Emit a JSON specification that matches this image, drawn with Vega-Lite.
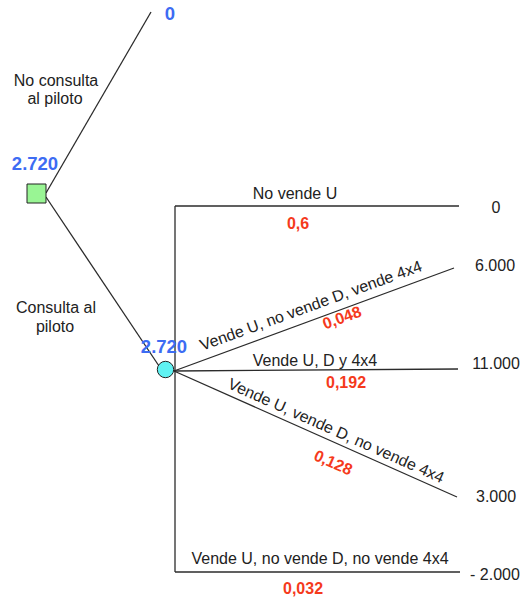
{
  "$schema": "https://vega.github.io/schema/vega-lite/v6.json",
  "width": 521,
  "height": 599,
  "padding": 0,
  "autosize": {"type": "fit", "contains": "padding"},
  "background": "white",
  "config": {"view": {"stroke": null}},
  "datasets": {
    "edges": [
      {"x": 46, "y": 193, "x2": 151, "y2": 12},
      {"x": 46, "y": 197, "x2": 159, "y2": 366},
      {"x": 175, "y": 206, "x2": 175, "y2": 572},
      {"x": 175, "y": 206, "x2": 459, "y2": 206},
      {"x": 175, "y": 572, "x2": 460, "y2": 572},
      {"x": 174, "y": 371, "x2": 454, "y2": 268},
      {"x": 174, "y": 371, "x2": 458, "y2": 369},
      {"x": 174, "y": 371, "x2": 457, "y2": 497}
    ]
  },
  "encoding": {
    "x": {"field": "x", "type": "quantitative", "scale": {"domain": [0, 521]}, "axis": null},
    "y": {"field": "y", "type": "quantitative", "scale": {"domain": [0, 599], "reverse": true}, "axis": null}
  },
  "layer": [
    {
      "data": {"name": "edges"},
      "mark": {"type": "rule", "color": "#2b2b2b", "strokeWidth": 1.3},
      "encoding": {"x2": {"field": "x2"}, "y2": {"field": "y2"}}
    },
    {
      "data": {"values": [{"node": "decisión", "x": 36.5, "y": 193.5}]},
      "mark": {"type": "point", "shape": "square", "size": 361, "filled": true, "fill": "#99f594", "stroke": "#222222", "strokeWidth": 1, "opacity": 1}
    },
    {
      "data": {"values": [{"node": "azar", "x": 165.5, "y": 369.5}]},
      "mark": {"type": "point", "shape": "circle", "size": 270, "filled": true, "fill": "#5ff2f2", "stroke": "#222222", "strokeWidth": 1, "opacity": 1}
    },
    {
      "data": {"values": [
        {"t": "0", "x": 170, "y": 14},
        {"t": "2.720", "x": 35, "y": 164},
        {"t": "2.720", "x": 164, "y": 347}
      ]},
      "mark": {"type": "text", "font": "Liberation Sans", "fontSize": 18.5, "fontWeight": "bold", "color": "#3d6cf3", "baseline": "middle", "align": "center"},
      "encoding": {"text": {"field": "t"}}
    },
    {
      "data": {"values": [
        {"t": "0,6", "x": 298, "y": 224},
        {"t": "0,192", "x": 346, "y": 383},
        {"t": "0,032", "x": 303, "y": 589}
      ]},
      "mark": {"type": "text", "font": "Liberation Sans", "fontSize": 16, "fontWeight": "bold", "color": "#f53a1c", "baseline": "middle", "align": "center"},
      "encoding": {"text": {"field": "t"}}
    },
    {
      "data": {"values": [{"t": "0,048", "x": 342, "y": 318}]},
      "mark": {"type": "text", "font": "Liberation Sans", "fontSize": 16, "fontWeight": "bold", "color": "#f53a1c", "baseline": "middle", "align": "center", "angle": -20},
      "encoding": {"text": {"field": "t"}}
    },
    {
      "data": {"values": [{"t": "0,128", "x": 333, "y": 463}]},
      "mark": {"type": "text", "font": "Liberation Sans", "fontSize": 16, "fontWeight": "bold", "color": "#f53a1c", "baseline": "middle", "align": "center", "angle": 24},
      "encoding": {"text": {"field": "t"}}
    },
    {
      "data": {"values": [
        {"t": "No consulta", "x": 56, "y": 81},
        {"t": "al piloto", "x": 55, "y": 99},
        {"t": "Consulta al", "x": 56, "y": 308},
        {"t": "piloto", "x": 55, "y": 327},
        {"t": "No vende U", "x": 295, "y": 194},
        {"t": "Vende U, D y 4x4", "x": 315, "y": 361},
        {"t": "Vende U, no vende D, no vende 4x4", "x": 320, "y": 559},
        {"t": "0", "x": 496, "y": 208},
        {"t": "6.000", "x": 495, "y": 266},
        {"t": "11.000", "x": 496, "y": 364},
        {"t": "3.000", "x": 496, "y": 497},
        {"t": "- 2.000", "x": 495, "y": 575}
      ]},
      "mark": {"type": "text", "font": "Liberation Sans", "fontSize": 16, "color": "#222222", "baseline": "middle", "align": "center"},
      "encoding": {"text": {"field": "t"}}
    },
    {
      "data": {"values": [{"t": "Vende U, no vende D, vende 4x4", "x": 311, "y": 306}]},
      "mark": {"type": "text", "font": "Liberation Sans", "fontSize": 16, "color": "#222222", "baseline": "middle", "align": "center", "angle": -20},
      "encoding": {"text": {"field": "t"}}
    },
    {
      "data": {"values": [{"t": "Vende U, vende D, no vende 4x4", "x": 336, "y": 431}]},
      "mark": {"type": "text", "font": "Liberation Sans", "fontSize": 16, "color": "#222222", "baseline": "middle", "align": "center", "angle": 24},
      "encoding": {"text": {"field": "t"}}
    }
  ]
}
